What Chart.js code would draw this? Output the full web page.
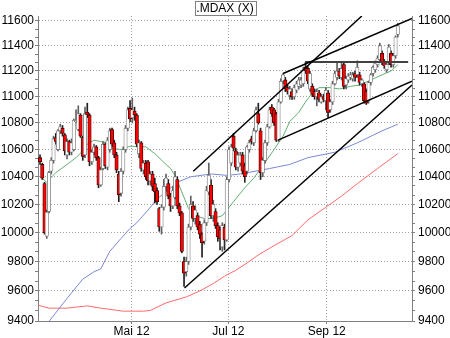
<!DOCTYPE html>
<html>
<head>
<meta charset="utf-8">
<script src="https://cdn.jsdelivr.net/npm/chart.js@4.4.1/dist/chart.umd.min.js"></script>
<style>
  html, body { margin: 0; padding: 0; background: #fff; }
  canvas { display: block; }
</style>
</head>
<body>
<canvas id="chart" width="450" height="338"></canvas>
<script>
// Kurs-Daten (Handelstage, Index 0 = erster Tag im Chart)
const opens = [
  10540,10490,10350,9975,10150,10440,10520,10690,10600,10740,
  10760,10710,10560,10660,10580,10600,10810,10750,10860,10690,
  10560,10880,10860,10510,10580,10620,10540,10340,10460,10640,
  10470,10600,10750,10650,10560,10420,10280,10440,10600,10760,
  10910,10840,10890,10860,10570,10650,10450,10500,10510,10370,
  10420,10350,10300,10170,10040,10180,10330,10350,10260,10190,
  10250,10380,10190,10140,9800,9730,9800,10040,10190,10100,
  10120,10060,9990,9940,10070,10290,10340,10120,10150,10050,
  10020,9900,10040,9950,10380,10500,10700,10590,10470,10500,
  10560,10480,10440,10600,10680,10650,10740,10870,10740,10430,
  10520,10650,10770,10920,10900,10870,10670,10960,11120,11130,
  11070,11010,11040,11000,11050,11080,11090,11100,11230,11220,
  11060,11080,11040,11000,11030,10960,11000,10970,11030,10900,
  10960,11100,11150,11200,11150,11250,11090,11130,11150,11140,
  11180,11170,11170,11100,11100,11040,10970,11110,11180,11210,
  11250,11290,11340,11270,11210,11270,11340,11250,11320,11490
];
const highs = [
  10560,10500,10360,10160,10440,10540,10700,10720,10750,10790,
  10780,10720,10680,10670,10680,10830,10900,10930,10870,10700,
  10920,10950,10870,10600,10640,10630,10550,10470,10660,10650,
  10690,10760,10760,10670,10580,10440,10460,10620,10780,10920,
  10970,10990,10920,10870,10670,10660,10520,10520,10520,10440,
  10440,10390,10320,10180,10200,10380,10420,10380,10280,10330,
  10440,10400,10210,10150,9830,9830,10060,10260,10220,10190,
  10140,10080,10000,10090,10330,10500,10380,10230,10170,10070,
  10040,10070,10060,10400,10620,10640,10720,10610,10580,10580,
  10580,10500,10630,10670,10700,10760,10920,10950,10760,10540,
  10670,10790,10920,10940,10910,10880,10980,11140,11180,11150,
  11090,11080,11060,11090,11120,11150,11150,11230,11270,11240,
  11200,11100,11060,11060,11050,11020,11020,11070,11050,10980,
  11120,11200,11270,11220,11260,11270,11160,11180,11190,11190,
  11200,11280,11190,11140,11110,11060,11120,11180,11240,11280,
  11320,11420,11360,11290,11270,11410,11360,11340,11480,11580
];
const lows = [
  10490,10380,9990,9960,10140,10420,10500,10640,10590,10720,
  10700,10560,10530,10560,10560,10590,10800,10740,10690,10520,
  10540,10840,10480,10490,10560,10520,10320,10330,10450,10460,
  10450,10580,10620,10540,10430,10220,10260,10420,10580,10740,
  10810,10800,10820,10620,10540,10440,10420,10380,10340,10340,
  10300,10210,10200,10010,9990,10160,10300,10240,10150,10170,
  10240,10170,10120,9860,9630,9700,9780,10020,10080,10060,
  10020,9960,9830,9920,10050,10270,10100,10080,10030,9940,
  9880,9870,9880,9940,10360,10480,10590,10450,10440,10480,
  10420,10360,10420,10580,10640,10630,10730,10790,10380,10400,
  10500,10630,10760,10850,10780,10660,10660,10950,11100,11040,
  11020,10980,10980,10980,11030,11060,11070,11080,11180,11100,
  11040,11000,10980,10930,10960,10950,10960,10900,10840,10880,
  10940,11090,11130,11140,11130,11060,11060,11110,11130,11120,
  11120,11150,11090,11080,10950,10940,10950,11090,11160,11190,
  11230,11270,11250,11220,11190,11250,11230,11230,11300,11470
];
const closes = [
  10510,10390,10000,10145,10430,10520,10680,10660,10740,10770,
  10720,10590,10660,10580,10650,10820,10815,10870,10700,10550,
  10870,10860,10510,10580,10620,10540,10340,10450,10640,10480,
  10670,10740,10640,10560,10450,10270,10440,10600,10760,10900,
  10830,10900,10860,10640,10650,10460,10500,10400,10370,10420,
  10330,10290,10220,10040,10180,10330,10390,10260,10190,10300,
  10400,10190,10140,9870,9720,9800,10040,10200,10100,10160,
  10040,9990,9930,10070,10300,10410,10120,10200,10050,9970,
  9960,10050,9950,10380,10600,10620,10610,10470,10560,10560,
  10440,10400,10620,10650,10660,10740,10900,10800,10430,10520,
  10650,10770,10900,10870,10800,10670,10960,11120,11170,11060,
  11040,11060,11000,11070,11100,11130,11130,11210,11200,11120,
  11180,11020,11000,11040,10980,11000,10980,11050,10880,10960,
  11100,11180,11200,11160,11220,11080,11140,11160,11170,11170,
  11150,11230,11110,11130,10970,10950,11110,11170,11230,11260,
  11300,11400,11270,11240,11250,11390,11250,11320,11470,11560
];

// Gleitende Durchschnitte [Index, Wert]
const maShort = [
  [0,10400],[3,10360],[7,10430],[12,10490],[16,10540],[19,10590],[21,10640],[24,10670],
  [27,10660],[29,10655],[31,10610],[36,10600],[40,10625],[47,10620],[51,10570],[56,10490],
  [58,10460],[60,10410],[63,10290],[66,10170],[69,10120],[73,10100],[76,10100],[79,10110],
  [81,10120],[84,10180],[88,10260],[91,10320],[95,10390],[99,10480],[104,10600],[108,10700],
  [111,10810],[115,10880],[118,10960],[121,11030],[124,11070],[129,11070],[133,11060],
  [138,11080],[142,11090],[147,11130],[152,11170],[156,11200],[159,11250]
];
const maMid = [
  [2,9360],[12,9550],[19,9680],[24,9730],[27,9750],[31,9870],[36,9960],[40,10030],
  [43,10070],[48,10160],[52,10240],[56,10290],[61,10360],[67,10400],[76,10420],[83,10410],
  [89,10420],[102,10460],[111,10490],[119,10540],[131,10580],[141,10650],[152,10740],[159,10790]
];
const maLong = [
  [-1,9505],[4,9485],[12,9485],[21,9500],[27,9485],[37,9465],[46,9465],[49,9470],
  [56,9520],[65,9560],[71,9600],[77,9650],[82,9700],[87,9740],[92,9790],[97,9845],
  [104,9910],[112,9980],[119,10090],[127,10180],[134,10260],[141,10350],[150,10460],[159,10570]
];

// Trendlinien [Index, Wert]
const supportLine = [[64.2, 9620], [165.3, 11090]];
const channelTop = [[68.1, 10440], [143, 11640]];
const wedgeTop = [[108, 11180], [165.3, 11620]];
const wedgeBottom = [[105.8, 10670], [165.3, 11120]];
const resistance = [[117.8, 11270], [163.6, 11270]];

// Achsen
const yTicks = [9400, 9600, 9800, 10000, 10200, 10400, 10600, 10800, 11000, 11200, 11400, 11600];
const monthTicks = [40.7, 83.7, 127.4];
const monthLabels = ['Mai 12', 'Jul 12', 'Sep 12'];
const chartTitle = '.MDAX (X)';

const FONT = '"Liberation Sans", Arial, sans-serif';
Chart.defaults.font.family = FONT;
Chart.defaults.font.size = 12;
Chart.defaults.color = '#000';

// kleine Ticks (Drittel zwischen den Hauptticks)
const allYTicks = [];
yTicks.forEach((v, i) => {
    allYTicks.push(v);
    if (i < yTicks.length - 1) {
        allYTicks.push(v + 200 / 3, v + 400 / 3);
    }
});
const isMajor = v => yTicks.some(t => Math.abs(t - v) < 0.01);

const idx = closes.map((_, i) => i);
const up = idx.map(i => closes[i] >= opens[i]);
const pts = arr => arr.map(([x, y]) => ({ x, y }));

function line(data, color, width, order) {
    return {
        type: 'line',
        data: pts(data),
        borderColor: color,
        borderWidth: width,
        pointRadius: 0,
        fill: false,
        tension: 0,
        order: order
    };
}

// Rahmen um den Titel
const titleBox = {
    id: 'titleBox',
    afterDraw(chart) {
        const { ctx, chartArea } = chart;
        ctx.save();
        ctx.font = '12px ' + FONT;
        const w = Math.round(ctx.measureText(chartTitle).width) + 4;
        const cx = (chartArea.left + chartArea.right) / 2;
        const x = Math.round(cx - w / 2) + 0.5;
        ctx.fillStyle = '#fff';
        ctx.fillRect(x, 1.5, w, 14);
        ctx.strokeStyle = '#808080';
        ctx.lineWidth = 1;
        ctx.strokeRect(x, 1.5, w, 14);
        ctx.fillStyle = '#000';
        ctx.textAlign = 'center';
        ctx.textBaseline = 'middle';
        ctx.fillText(chartTitle, cx, 9);
        ctx.restore();
    }
};

function yAxis(position, onChart, pad) {
    return {
        type: 'logarithmic',
        position: position,
        min: 9400,
        max: 11640,
        bounds: 'data',
        grid: {
            drawOnChartArea: onChart,
            color: c => (c.tick && isMajor(c.tick.value)) ? '#a0a0a0' : 'rgba(0,0,0,0)',
            tickColor: '#808080',
            tickLength: 3
        },
        border: { color: '#808080', dash: [1, 2] },
        ticks: {
            autoSkip: false,
            padding: pad,
            callback: v => isMajor(v) ? String(Math.round(v)) : ''
        },
        afterBuildTicks: s => { s.ticks = allYTicks.map(v => ({ value: v })); },
        afterFit: s => { s.width = 38; }
    };
}

let myChart;

function initChart() {
    const ctx = document.getElementById('chart').getContext('2d');
    myChart = new Chart(ctx, {
        type: 'bar',
        data: {
            datasets: [
                line(supportLine, '#000', 1.5, 0),
                line(channelTop, '#000', 1.5, 0),
                line(wedgeTop, '#000', 1.5, 0),
                line(wedgeBottom, '#000', 1.5, 0),
                line(resistance, '#404040', 2, 0),
                {
                    // Kerzenkörper
                    data: idx.map(i => ({ x: i, y: [Math.min(opens[i], closes[i]), Math.max(opens[i], closes[i])] })),
                    backgroundColor: up.map(u => u ? '#ffffff' : '#ff0000'),
                    borderColor: up.map(u => u ? '#7a7a7a' : '#3a0000'),
                    borderWidth: 0.8,
                    borderSkipped: false,
                    barThickness: 3.4,
                    minBarLength: 1,
                    grouped: false,
                    order: 1
                },
                {
                    // Dochte
                    data: idx.map(i => ({ x: i, y: [lows[i], highs[i]] })),
                    backgroundColor: up.map(u => u ? '#606060' : '#202020'),
                    borderWidth: 0,
                    barThickness: 1,
                    grouped: false,
                    order: 2
                },
                line(maShort, '#62b074', 1, 3),
                line(maMid, '#7b88d6', 1, 3),
                line(maLong, '#ff6a6a', 1, 3)
            ]
        },
        options: {
            responsive: false,
            animation: false,
            layout: { padding: { top: 16, left: 0, right: 0, bottom: 0 } },
            plugins: {
                legend: { display: false },
                tooltip: { enabled: false },
                title: { display: false }
            },
            scales: {
                x: {
                    type: 'linear',
                    min: -0.9,
                    max: 165.3,
                    bounds: 'data',
                    offset: false,
                    grid: { offset: false, color: '#a0a0a0', tickColor: '#808080', tickLength: 3 },
                    border: { color: '#808080', dash: [1, 2] },
                    ticks: {
                        autoSkip: false,
                        maxRotation: 0,
                        padding: 0,
                        callback: (v, i) => monthLabels[i]
                    },
                    afterBuildTicks: s => { s.ticks = monthTicks.map(v => ({ value: v })); },
                    afterFit: s => { s.height = 17; }
                },
                y: yAxis('left', true, 1),
                y2: yAxis('right', false, 3)
            }
        },
        plugins: [titleBox]
    });
}

document.addEventListener('DOMContentLoaded', () => {
    initChart();
});
</script>
</body>
</html>
